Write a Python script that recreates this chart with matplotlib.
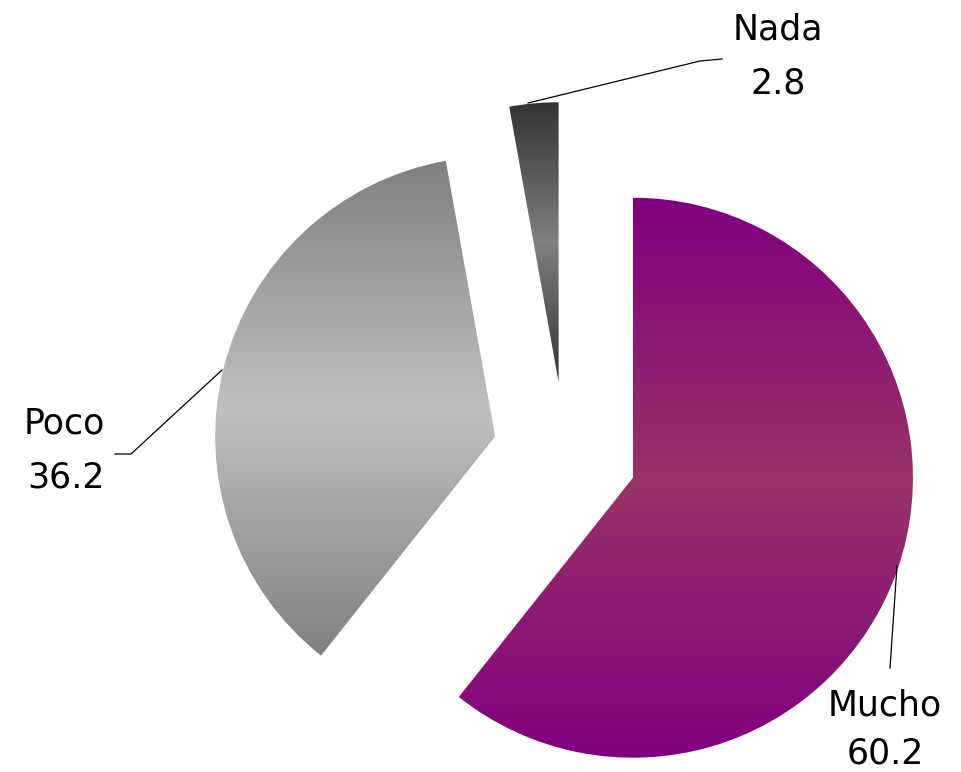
import numpy as np
import matplotlib
matplotlib.use("Agg")
import matplotlib.pyplot as plt
from matplotlib.colors import LinearSegmentedColormap

labels = ["Mucho", "Poco", "Nada"]
values = [60.2, 36.2, 2.8]
edge_colors = ["#800080", "#808080", "#333333"]
mid_colors = ["#993366", "#c0c0c0", "#808080"]

W, H = 961, 772
fig = plt.figure(figsize=(W / 100, H / 100), dpi=100)
ax = fig.add_axes([0, 0, 1, 1])

center = (565, H - 454)
radius = 280
explode = [72, 72, 72]

wedges, _ = ax.pie(values, radius=radius, center=center, startangle=90,
                   counterclock=False, explode=explode, frame=True,
                   wedgeprops=dict(linewidth=0))
ax.set_xlim(0, W)
ax.set_ylim(0, H)
ax.set_aspect("equal")
ax.axis("off")

for w, ec, mc in zip(wedges, edge_colors, mid_colors):
    w.set_facecolor("none")
    verts = w.get_path().vertices
    x0, x1 = verts[:, 0].min(), verts[:, 0].max()
    y0, y1 = verts[:, 1].min(), verts[:, 1].max()
    cmap = LinearSegmentedColormap.from_list("g", [ec, mc, ec])
    grad = np.linspace(0, 1, 256).reshape(-1, 1)
    im = ax.imshow(grad, cmap=cmap, extent=(x0, x1, y0, y1), origin="lower",
                   aspect="auto", interpolation="bilinear", zorder=1)
    im.set_clip_path(w)

def py(y):
    return H - y

lw = 0.9
# Leader lines (pixel coords of the reference)
ax.plot([528, 700, 722], [py(103), py(61), py(59)], color="black", lw=lw, zorder=3)
ax.plot([222, 131, 115], [py(370), py(454), py(454)], color="black", lw=lw, zorder=3)
ax.plot([897, 890], [py(566), py(668)], color="black", lw=lw, zorder=3)

fs = 25
txt = dict(fontsize=fs, ha="center", va="center", color="black", family="DejaVu Sans")
ax.text(778, py(29), "Nada", **txt)
ax.text(778, py(84), "2.8", **txt)
ax.text(64, py(424), "Poco", **txt)
ax.text(66, py(478), "36.2", **txt)
ax.text(885, py(705), "Mucho", **txt)
ax.text(885, py(753), "60.2", **txt)

fig.savefig("out.png", dpi=100)
